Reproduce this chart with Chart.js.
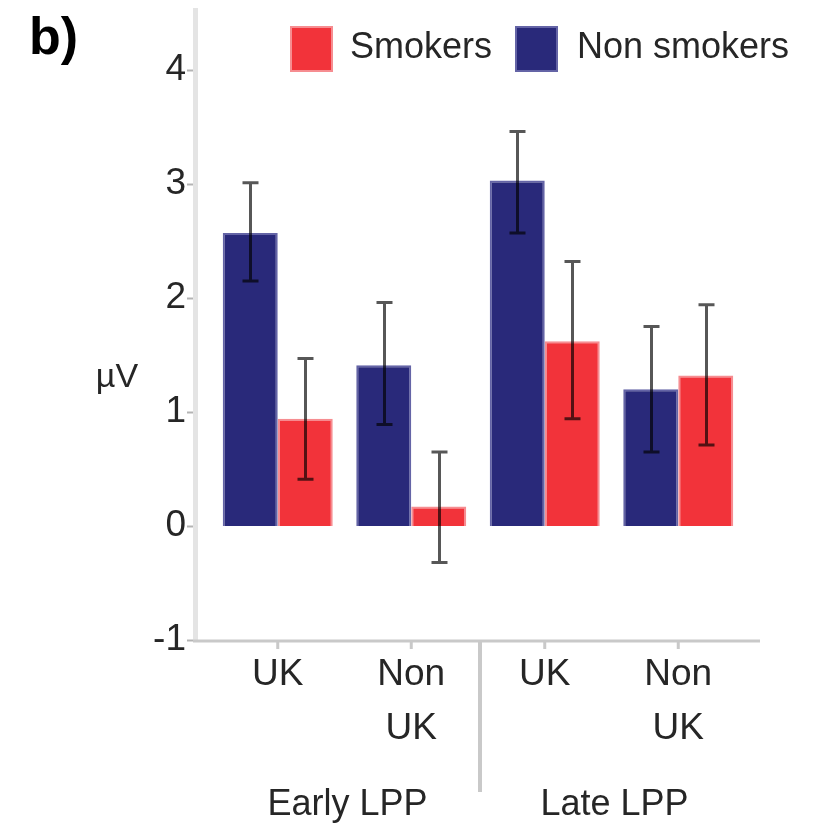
<!DOCTYPE html>
<html>
<head>
<meta charset="utf-8">
<script src="https://cdn.jsdelivr.net/npm/chart.js@4/dist/chart.umd.min.js"></script>
<style>
  html, body { margin: 0; padding: 0; background: #ffffff; }
  #wrap { width: 826px; height: 829px; }
</style>
</head>
<body>
<div id="wrap"><canvas id="c" width="826" height="829"></canvas></div>
<script>
// Conditions (x categories) and the two LPP windows they belong to
const categories = [['UK'], ['Non', 'UK'], ['UK'], ['Non', 'UK']];
const groups = ['Early LPP', 'Late LPP'];

// Mean amplitude (µV) with error bar limits
const nonSmokers     = [2.57, 1.41, 3.03, 1.20];
const nonSmokersLow  = [2.15, 0.89, 2.57, 0.65];
const nonSmokersHigh = [3.01, 1.96, 3.46, 1.75];

const smokers        = [0.94, 0.17, 1.62, 1.32];
const smokersLow     = [0.41, -0.32, 0.94, 0.71];
const smokersHigh    = [1.47, 0.65, 2.32, 1.94];

const yMin = -1;
const yMax = 4.5;

const NAVY = '#29297a';
const NAVY_EDGE = '#6464a6';
const RED = '#f2333a';
const RED_EDGE = '#f68d91';
const TEXT = '#262626';
const FONT = '"Liberation Sans", Arial, sans-serif';

const errors = [
  { low: nonSmokersLow, high: nonSmokersHigh },
  { low: smokersLow, high: smokersHigh }
];

const decor = {
  id: 'decor',
  beforeDatasetsDraw(chart) {
    const { ctx, chartArea: a, scales: { x, y } } = chart;
    const axisX = a.left - 15;
    const axisY = y.getPixelForValue(yMin) + 1;
    ctx.save();
    // vertical axis
    ctx.fillStyle = '#e4e4e4';
    ctx.fillRect(axisX - 3, 8, 5, axisY - 8);
    // y tick marks
    ctx.strokeStyle = '#b4b4b4';
    ctx.lineWidth = 2;
    y.ticks.forEach(t => {
      const py = Math.round(y.getPixelForValue(t.value)) + 0.5;
      ctx.beginPath();
      ctx.moveTo(axisX - 9, py);
      ctx.lineTo(axisX - 3, py);
      ctx.stroke();
    });
    // horizontal axis
    ctx.strokeStyle = '#c9c9c9';
    ctx.lineWidth = 3;
    ctx.beginPath();
    ctx.moveTo(axisX - 3, axisY);
    ctx.lineTo(a.right + 15, axisY);
    ctx.stroke();
    // category tick marks
    categories.forEach((c, i) => {
      const px = x.getPixelForValue(i);
      ctx.beginPath();
      ctx.moveTo(px, axisY);
      ctx.lineTo(px, axisY + 8);
      ctx.stroke();
    });
    // separator between the two LPP windows
    const sep = (x.getPixelForValue(1) + x.getPixelForValue(2)) / 2 + 2;
    ctx.lineWidth = 4;
    ctx.beginPath();
    ctx.moveTo(sep, axisY);
    ctx.lineTo(sep, axisY + 151);
    ctx.stroke();
    ctx.restore();
  },
  afterDatasetsDraw(chart) {
    const { ctx, scales: { y } } = chart;
    ctx.save();
    ctx.strokeStyle = 'rgba(0,0,0,0.66)';
    ctx.lineWidth = 3;
    chart.data.datasets.forEach((ds, di) => {
      const meta = chart.getDatasetMeta(di);
      meta.data.forEach((bar, i) => {
        const px = Math.round(bar.x) + 0.5;
        const top = y.getPixelForValue(errors[di].high[i]);
        const bot = y.getPixelForValue(errors[di].low[i]);
        ctx.beginPath();
        ctx.moveTo(px, top);
        ctx.lineTo(px, bot);
        ctx.moveTo(px - 8, top);
        ctx.lineTo(px + 8, top);
        ctx.moveTo(px - 8, bot);
        ctx.lineTo(px + 8, bot);
        ctx.stroke();
      });
    });
    ctx.restore();
  },
  afterDraw(chart) {
    const { ctx, scales: { x } } = chart;
    ctx.save();
    // panel letter
    ctx.fillStyle = '#000';
    ctx.font = 'bold 52px ' + FONT;
    ctx.textBaseline = 'alphabetic';
    ctx.textAlign = 'left';
    ctx.fillText('b)', 29, 54);
    // unit label
    ctx.fillStyle = TEXT;
    ctx.font = '34px ' + FONT;
    ctx.textAlign = 'center';
    ctx.fillText('µV', 117, 387);
    // window labels under each pair of conditions
    ctx.font = '36px ' + FONT;
    groups.forEach((g, gi) => {
      const cx = (x.getPixelForValue(gi * 2) + x.getPixelForValue(gi * 2 + 1)) / 2 + 3;
      ctx.fillText(g, cx, 815);
    });
    // legend
    const items = [
      { label: 'Smokers', fill: RED, edge: RED_EDGE, bx: 290, tx: 350 },
      { label: 'Non smokers', fill: NAVY, edge: NAVY_EDGE, bx: 515, tx: 577 }
    ];
    ctx.textAlign = 'left';
    ctx.textBaseline = 'middle';
    ctx.font = '36px ' + FONT;
    items.forEach(it => {
      ctx.fillStyle = it.edge;
      ctx.fillRect(it.bx, 26, 43, 46);
      ctx.fillStyle = it.fill;
      ctx.fillRect(it.bx + 2, 28, 39, 42);
      ctx.fillStyle = TEXT;
      ctx.fillText(it.label, it.tx, 48);
    });
    ctx.restore();
  }
};

new Chart(document.getElementById('c'), {
  type: 'bar',
  data: {
    labels: categories,
    datasets: [
      {
        label: 'Non smokers',
        data: nonSmokers,
        backgroundColor: NAVY,
        borderColor: NAVY_EDGE,
        borderWidth: 2,
        categoryPercentage: 0.824,
        barPercentage: 1.0
      },
      {
        label: 'Smokers',
        data: smokers,
        backgroundColor: RED,
        borderColor: RED_EDGE,
        borderWidth: 2,
        categoryPercentage: 0.824,
        barPercentage: 1.0
      }
    ]
  },
  options: {
    responsive: false,
    animation: false,
    devicePixelRatio: 1,
    layout: { padding: { top: 13, left: 0, right: 81, bottom: 0 } },
    plugins: {
      legend: { display: false },
      tooltip: { enabled: false },
      title: { display: false }
    },
    scales: {
      x: {
        grid: { display: false, drawTicks: false, tickLength: 0 },
        border: { display: false },
        ticks: {
          color: TEXT,
          font: { family: FONT, size: 37, lineHeight: 1.45 },
          padding: 8,
          maxRotation: 0,
          autoSkip: false
        },
        afterFit(s) {
          s.height = 189;
          s.paddingLeft = 0;
          s.paddingRight = 0;
        }
      },
      y: {
        min: yMin,
        max: yMax,
        grid: { display: false, drawTicks: false, tickLength: 0 },
        border: { display: false },
        ticks: {
          stepSize: 1,
          includeBounds: false,
          color: TEXT,
          padding: 25,
          font: { family: FONT, size: 37 }
        },
        afterFit(s) {
          s.width = 211;
          s.paddingTop = 0;
          s.paddingBottom = 0;
        }
      }
    }
  },
  plugins: [decor]
});
</script>
</body>
</html>
